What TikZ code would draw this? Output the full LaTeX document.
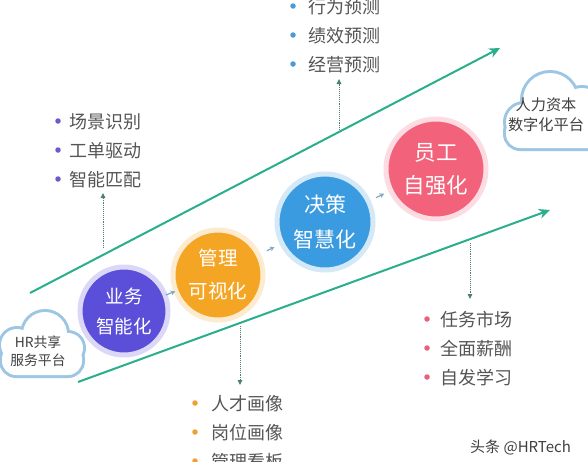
\documentclass[tikz,border=0pt]{standalone}
\usepackage{fontspec}
\newfontfamily\cjk{Noto Sans CJK SC}
\usetikzlibrary{arrows.meta,calc}
\definecolor{lineg}{HTML}{2BAE8C}
\definecolor{dotc}{HTML}{4D7F70}
\definecolor{cpur}{HTML}{5B4FD9}
\definecolor{cora}{HTML}{F5A524}
\definecolor{cblu}{HTML}{3A9BE0}
\definecolor{cpnk}{HTML}{F2627A}
\definecolor{bpur}{HTML}{6A5ACD}
\definecolor{bblu}{HTML}{4A9AD8}
\definecolor{bora}{HTML}{F0A030}
\definecolor{bpnk}{HTML}{E8607A}
\definecolor{txtg}{HTML}{555555}
\definecolor{cloudb}{HTML}{9CC6E4}
\definecolor{smarr}{HTML}{7FA9C8}
\tikzset{
  greenarr/.style={draw=lineg, line width=2pt, -{Stealth[length=11pt,width=10pt]}},
  dotarr/.style={draw=dotc, line width=0.9pt, densely dotted, -{Triangle[length=5pt,width=4.5pt]}},
  stage/.style={circle, text=white, align=center, line width=5pt, inner sep=0pt},
  item/.style={anchor=west, text=txtg, font=\cjk\fontsize{18}{20}\selectfont, inner sep=0pt},
  bul/.style={circle, inner sep=0pt, minimum size=5.5pt},
  cloudtxt/.style={text=black!75, align=center, inner sep=0pt},
  smallarr/.style={draw=smarr, line width=1.2pt, -{Stealth[length=4.5pt,width=5pt]}},
}
\begin{document}
\begin{tikzpicture}[x=1pt,y=-1pt]
\useasboundingbox[fill=white] (0,0) rectangle (588,461);

% green lines
\coordinate (u1) at (30,293);
\coordinate (u2) at (500,48);
\coordinate (l1) at (78,382);
\coordinate (l2) at (550,210);
\draw[greenarr] (u1) -- (u2);
\draw[greenarr] (l1) -- (l2);

% left cloud
\begin{scope}
\draw[cloudb, line width=6pt] (2,345) [rounded corners=14pt] rectangle (82,375);
\draw[cloudb, line width=6pt] (17,345) circle[radius=16pt];
\draw[cloudb, line width=6pt] (45,334) circle[radius=22pt];
\draw[cloudb, line width=6pt] (68,348) circle[radius=15pt];
\fill[white] (2,345) [rounded corners=14pt] rectangle (82,375);
\fill[white] (17,345) circle[radius=16pt];
\fill[white] (45,334) circle[radius=22pt];
\fill[white] (68,348) circle[radius=15pt];
\end{scope}
\node[cloudtxt, font=\cjk\fontsize{13.8}{18}\selectfont] (cl1) at (38,351) {HR共享\\服务平台};

% right cloud
\begin{scope}
\draw[cloudb, line width=6pt] (506,118) [rounded corners=14pt] rectangle (604,148);
\draw[cloudb, line width=6pt] (524,122) circle[radius=18pt];
\draw[cloudb, line width=6pt] (550,100) circle[radius=27pt];
\draw[cloudb, line width=6pt] (582,108) circle[radius=20pt];
\fill[white] (506,118) [rounded corners=14pt] rectangle (604,148);
\fill[white] (524,122) circle[radius=18pt];
\fill[white] (550,100) circle[radius=27pt];
\fill[white] (582,108) circle[radius=20pt];
\end{scope}
\node[cloudtxt, font=\cjk\fontsize{15.2}{20}\selectfont] (cl2) at (546,115) {人力资本\\数字化平台};

% stage circles
\node[stage, fill=cpur, draw=cpur!22, minimum size=88pt, font=\cjk\fontsize{18.5}{30}\selectfont] (s1) at (124,311) {业务\\智能化};
\node[stage, fill=cora, draw=cora!22, minimum size=90pt, font=\cjk\fontsize{19.5}{33}\selectfont] (s2) at (218,275) {管理\\可视化};
\node[stage, fill=cblu, draw=cblu!22, minimum size=96pt, font=\cjk\fontsize{21}{35}\selectfont] (s3) at (325,222) {决策\\智慧化};
\node[stage, fill=cpnk, draw=cpnk!22, minimum size=100pt, font=\cjk\fontsize{21.5}{33}\selectfont] (s4) at (436,169) {员工\\自强化};

\coordinate (a1s) at ($(s1.center)!0.445!(s2.center)$);
\coordinate (a1e) at ($(s1.center)!0.545!(s2.center)$);
\draw[smallarr] (a1s) -- (a1e);
\draw[smallarr, shorten <=7pt, shorten >=6pt] (s2) -- (s3);
\draw[smallarr, shorten <=6pt, shorten >=5pt] (s3) -- (s4);

% list 1
\node[bul, fill=bpur] (b11) at (58,121) {};
\node[bul, fill=bpur] (b12) at (58,150) {};
\node[bul, fill=bpur] (b13) at (58,179) {};
\node[item] (t11) at (69,122) {场景识别};
\node[item] (t12) at (69,151) {工单驱动};
\node[item] (t13) at (69,180) {智能匹配};
\coordinate (d1s) at (103,248);
\coordinate (d1e) at (103,193);
\draw[dotarr] (d1s) -- (d1e);

% list 2
\node[bul, fill=bblu] (b21) at (293,6) {};
\node[bul, fill=bblu] (b22) at (293,35) {};
\node[bul, fill=bblu] (b23) at (293,64) {};
\node[item] (t21) at (308,7) {行为预测};
\node[item] (t22) at (308,36) {绩效预测};
\node[item] (t23) at (308,65) {经营预测};
\coordinate (d2s) at (339,130);
\coordinate (d2e) at (339,79);
\draw[dotarr] (d2s) -- (d2e);

% list 3
\node[bul, fill=bora] (b31) at (195,403) {};
\node[bul, fill=bora] (b32) at (195,432) {};
\node[bul, fill=bora] (b33) at (195,461) {};
\node[item] (t31) at (211,404) {人才画像};
\node[item] (t32) at (211,433) {岗位画像};
\node[item] (t33) at (211,462) {管理看板};
\coordinate (d3s) at (240,326);
\coordinate (d3e) at (240,385);
\draw[dotarr] (d3s) -- (d3e);

% list 4
\node[bul, fill=bpnk] (b41) at (427,319) {};
\node[bul, fill=bpnk] (b42) at (427,348) {};
\node[bul, fill=bpnk] (b43) at (427,377) {};
\node[item] (t41) at (440,320) {任务市场};
\node[item] (t42) at (440,349) {全面薪酬};
\node[item] (t43) at (440,378) {自发学习};
\coordinate (d4s) at (470,243);
\coordinate (d4e) at (470,299);
\draw[dotarr] (d4s) -- (d4e);

% watermark
\node[text=black!75, font=\cjk\fontsize{15}{18}\selectfont, anchor=west, inner sep=0pt] (wm) at (470,447) {头条 @HRTech};
\end{tikzpicture}
\end{document}
